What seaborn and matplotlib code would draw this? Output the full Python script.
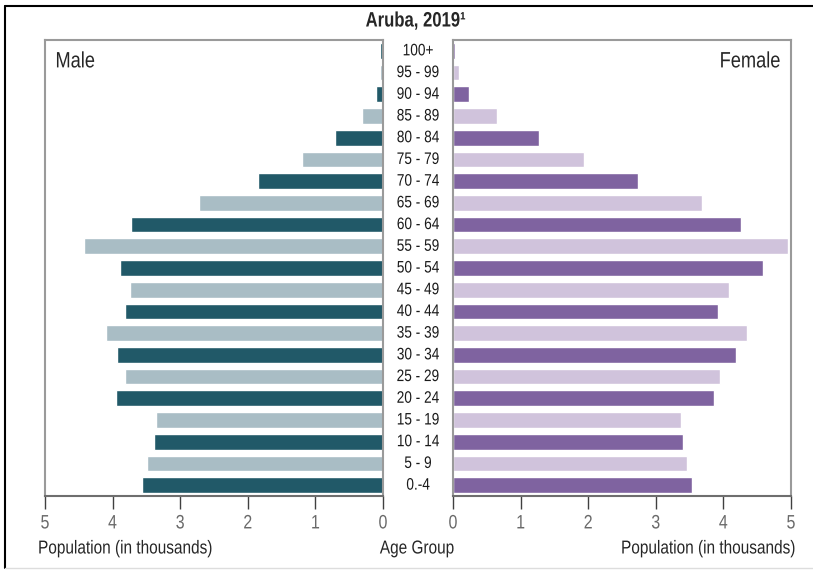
import matplotlib
matplotlib.use("Agg")
import matplotlib.pyplot as plt
import matplotlib.transforms as mtransforms
import matplotlib.patheffects as pe
from matplotlib.lines import Line2D
import seaborn as sns

# age groups, top to bottom
age_groups = ["100+", "95 - 99", "90 - 94", "85 - 89", "80 - 84", "75 - 79",
              "70 - 74", "65 - 69", "60 - 64", "55 - 59", "50 - 54", "45 - 49",
              "40 - 44", "35 - 39", "30 - 34", "25 - 29", "20 - 24", "15 - 19",
              "10 - 14", "5 - 9", "0.-4"]

# population in thousands
male = [0.04, 0.04, 0.10, 0.31, 0.71, 1.20, 1.85, 2.72, 3.73, 4.42, 3.89,
        3.74, 3.82, 4.10, 3.93, 3.82, 3.95, 3.36, 3.39, 3.49, 3.57]
female = [0.03, 0.09, 0.24, 0.65, 1.27, 1.94, 2.74, 3.69, 4.26, 4.96, 4.58,
          4.09, 3.92, 4.35, 4.19, 3.95, 3.86, 3.37, 3.40, 3.46, 3.54]

male_colors = ["#215968", "#A9BDC5"]
female_colors = ["#7F63A0", "#D0C3DC"]


class Narrow(pe.AbstractPathEffect):
    """Squeeze text horizontally (no narrow font installed)."""

    def __init__(self, factor=0.82, anchor="center"):
        super().__init__()
        self.factor = factor
        self.anchor = anchor

    def draw_path(self, renderer, gc, tpath, affine, rgbFace=None):
        ext = tpath.get_extents()
        cx = {"left": ext.x0, "right": ext.x1}.get(self.anchor, (ext.x0 + ext.x1) / 2)
        t = mtransforms.Affine2D().translate(-cx, 0).scale(self.factor, 1).translate(cx, 0) + affine
        renderer.draw_path(gc, tpath, t, rgbFace)


sns.set_style("white")
plt.rcParams["font.family"] = ["Liberation Sans", "DejaVu Sans"]

fig = plt.figure(figsize=(8.13, 5.71), dpi=100)
ax_m = fig.add_axes([45 / 813, 1 - 496 / 571, 338 / 813, 456 / 571])
ax_f = fig.add_axes([453 / 813, 1 - 496 / 571, 338 / 813, 456 / 571])

# alternate dark / light, bottom group (0-4) is dark
n = len(age_groups)
m_pal = [male_colors[(n - 1 - i) % 2] for i in range(n)]
f_pal = [female_colors[(n - 1 - i) % 2] for i in range(n)]

sns.barplot(x=male, y=age_groups, hue=age_groups, palette=m_pal, order=age_groups,
            hue_order=age_groups, legend=False, width=0.72, saturation=1, ax=ax_m)
sns.barplot(x=female, y=age_groups, hue=age_groups, palette=f_pal, order=age_groups,
            hue_order=age_groups, legend=False, width=0.72, saturation=1, ax=ax_f)

ax_m.set_xlim(5, 0)
ax_f.set_xlim(0, 5)
for ax in (ax_m, ax_f):
    ax.set_ylim(n - 0.5, -0.5)
    ax.set_xticks(range(6))
    ax.set_yticks([])
    ax.set_xlabel("")
    ax.set_ylabel("")
    for s in ax.spines.values():
        s.set_color("#9A9A9A")
        s.set_linewidth(1.5)
    ax.spines["bottom"].set_color("#6E6E6E")
    ax.tick_params(axis="x", direction="out", length=9, width=1, color="#404040",
                   labelsize=14, labelcolor="#6A6A6A", pad=5, bottom=True)
    for lab in ax.get_xticklabels():
        lab.set_path_effects([Narrow()])

ax_m.text(0.03, 0.975, "Male", transform=ax_m.transAxes, ha="left", va="top",
          fontsize=16, path_effects=[Narrow(anchor="left")])
ax_f.text(0.97, 0.975, "Female", transform=ax_f.transAxes, ha="right", va="top",
          fontsize=16, path_effects=[Narrow(anchor="right")])

# age labels in the gap between the two axes
trans = mtransforms.blended_transform_factory(fig.transFigure, ax_m.transData)
for i, lab in enumerate(age_groups):
    fig.text(418 / 813, i, lab, transform=trans, ha="center", va="center",
             fontsize=12, color="#1A1A1A", path_effects=[Narrow()])

fig.text(416 / 813, 1 - 21 / 571, "Aruba, 2019\u00b9", ha="center", va="center",
         fontsize=15, fontweight="bold", path_effects=[Narrow(0.8)])
fig.text(125 / 813, 1 - 549 / 571, "Population (in thousands)", ha="center", va="center",
         fontsize=13.5, path_effects=[Narrow()])
fig.text(417 / 813, 1 - 549 / 571, "Age Group", ha="center", va="center",
         fontsize=13.5, path_effects=[Narrow()])
fig.text(708 / 813, 1 - 549 / 571, "Population (in thousands)", ha="center", va="center",
         fontsize=13.5, path_effects=[Narrow()])

# outer frame
fig.add_artist(Line2D([5 / 813, 1], [1 - 6 / 571, 1 - 6 / 571], color="black", lw=1.5))
fig.add_artist(Line2D([5 / 813, 5 / 813], [1 - 6 / 571, 1 - 568 / 571], color="black", lw=1.5))
fig.add_artist(Line2D([5 / 813, 1], [1 - 568 / 571, 1 - 568 / 571], color="#DDDDDD", lw=1))

fig.savefig("out.png", dpi=100)
